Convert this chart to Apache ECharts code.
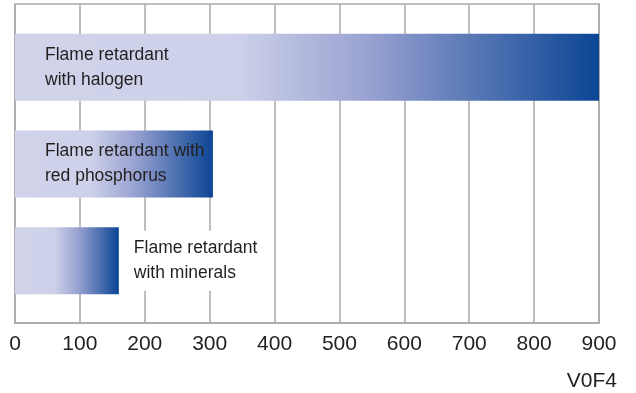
<!DOCTYPE html>
<html>
<head>
<meta charset="utf-8">
<script src="https://cdn.jsdelivr.net/npm/echarts@6/dist/echarts.min.js"></script>
<style>
  html, body { margin: 0; padding: 0; background: #fff; }
  #chart { width: 636px; height: 393px; }
</style>
</head>
<body>
<div id="chart"></div>
<script>
// Flame retardant types and their values on the 0–900 scale
const categories = [
  'Flame retardant\nwith halogen',
  'Flame retardant with\nred phosphorus',
  'Flame retardant\nwith minerals'
];
const values = [900, 305, 160];
const tickLabels = ['0', '100', '200', '300', '400', '500', '600', '700', '800', '900'];
const footnote = 'V0F4';

const FONT = '"Liberation Sans", Arial, Helvetica, sans-serif';
const TEXT = '#231f20';
const LINE = '#a9a9a9';

const chart = echarts.init(document.getElementById('chart'), null, { renderer: 'canvas' });

// Horizontal gradient shared by every bar: pale lavender to deep blue
function barGradient() {
  return new echarts.graphic.LinearGradient(0, 0, 1, 0, [
    { offset: 0, color: '#d0d3ea' },
    { offset: 0.38, color: '#cdd1e9' },
    { offset: 0.6, color: '#9aa3d2' },
    { offset: 1, color: '#0b4594' }
  ]);
}

// Short bars carry their label outside, on a white plate over the grid
const barData = values.map((v, i) => {
  const outside = v < 200;
  return {
    value: v,
    itemStyle: { color: barGradient() },
    label: outside
      ? { position: 'right', distance: 6, backgroundColor: '#fff', padding: [5, 9, 5, 9] }
      : { position: 'insideLeft', distance: 30 }
  };
});

const option = {
  animation: false,
  backgroundColor: '#fff',
  grid: [
    // frame, gridlines and value axis
    { left: 15, right: 37, top: 4, bottom: 70, show: true, borderColor: LINE, borderWidth: 1.5, backgroundColor: 'transparent' },
    // bars
    { left: 15, right: 37, top: 19, bottom: 84 }
  ],
  xAxis: [
    {
      gridIndex: 0,
      type: 'value',
      min: 0,
      max: 900,
      interval: 100,
      axisLine: { show: true, lineStyle: { color: LINE, width: 1.5 } },
      axisTick: { show: false },
      splitLine: { show: true, lineStyle: { color: LINE, width: 1.5 } },
      axisLabel: {
        margin: 11,
        fontSize: 21,
        fontFamily: FONT,
        color: TEXT,
        formatter: (val) => tickLabels[Math.round(val / 100)] ?? ''
      }
    },
    { gridIndex: 1, type: 'value', min: 0, max: 900, show: false }
  ],
  yAxis: [
    { gridIndex: 0, type: 'value', min: 0, max: 1, show: false },
    { gridIndex: 1, type: 'category', data: categories, inverse: true, show: false }
  ],
  series: [
    {
      type: 'bar',
      xAxisIndex: 1,
      yAxisIndex: 1,
      barWidth: 67,
      data: barData,
      label: {
        show: true,
        formatter: (p) => p.name,
        fontSize: 17.5,
        lineHeight: 25,
        fontFamily: FONT,
        color: TEXT
      },
      z: 3
    }
  ],
  graphic: [
    {
      type: 'text',
      right: 19,
      top: 371,
      style: { text: footnote, fontSize: 21, fontFamily: FONT, fill: TEXT }
    }
  ]
};

chart.setOption(option);
</script>
</body>
</html>
